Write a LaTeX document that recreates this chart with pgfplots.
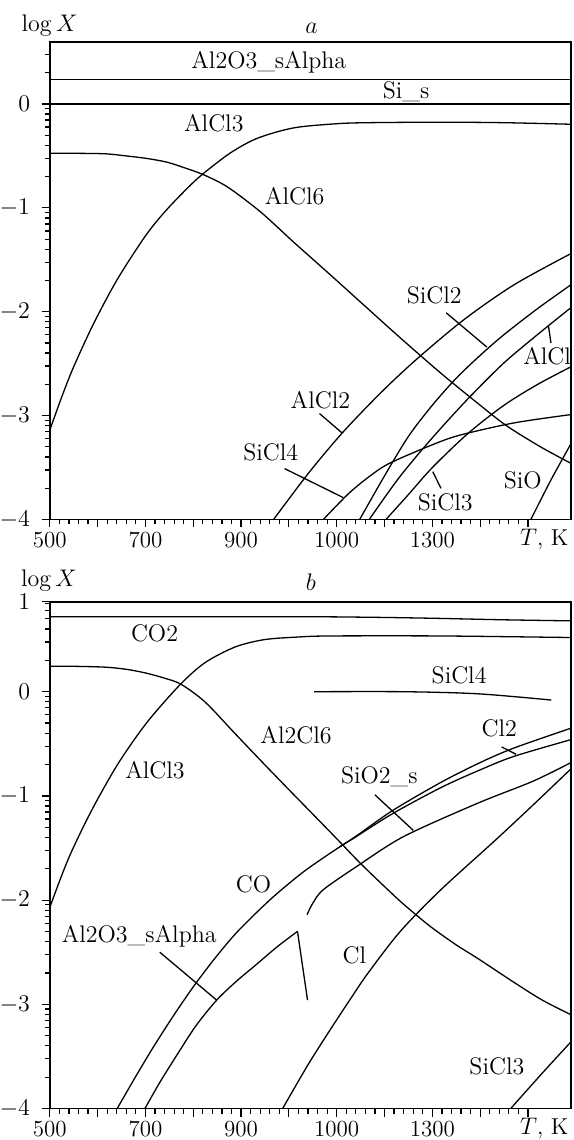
\documentclass[border=0pt]{standalone}
\usepackage{pgfplots}
\pgfplotsset{compat=1.18}
\tikzset{ptr/.style={line width=0.65pt, black}}
\newcommand{\TK}{$T$, K}
\begin{document}
\begin{tikzpicture}[font=\fontsize{12}{14}\selectfont]
\path[use as bounding box] (0,0) rectangle (286.5pt,570pt);
\pgfplotsset{
  panel/.style={
    scale only axis, width=260.6pt,
    xmin=500, xmax=1590,
    axis line style={line width=0.9pt},
    tick align=outside, xtick pos=bottom, ytick pos=left,
    xtick={500,600,...,1500},
    xticklabels={500,,700,,900,,1000,,1300,,},
    minor x tick num=4,
    major tick length=4pt, minor tick length=2.5pt,
    every tick/.style={line width=0.6pt, black},
    tick label style={font=\fontsize{11.5}{13}\selectfont},
    xticklabel style={anchor=base, inner sep=0pt, yshift=-10pt},
    yticklabel style={anchor=east, inner sep=0pt, xshift=-5.7pt},
    extra x ticks={1534},
    extra x tick labels={\TK},
    extra x tick style={major tick length=0pt, xticklabel style={yshift=-3pt}},
    every axis plot/.append style={line width=0.65pt, black, no marks, solid},
  },
}
% ---------------- panel a ----------------
\begin{axis}[panel, at={(24.9pt,310.25pt)}, anchor=south west, height=238.75pt,
  ymin=-4, ymax=0.597,
  ytick={-4,-3,-2,-1,0},
  minor ytick={-3.699,-3.523,-3.398,-3.301,-3.222,-3.155,-3.097,-3.046,
               -2.699,-2.523,-2.398,-2.301,-2.222,-2.155,-2.097,-2.046,
               -1.699,-1.523,-1.398,-1.301,-1.222,-1.155,-1.097,-1.046,
               -0.699,-0.523,-0.398,-0.301,-0.222,-0.155,-0.097,-0.046,
               0.301,0.477}]
% Al2O3_sAlpha
\addplot[sharp plot] coordinates {(500,0.235)(1590,0.235)};
% Si_s
\addplot[sharp plot] coordinates {(500,0)(1590,0)};
% AlCl3
\addplot[smooth] coordinates {(500,-3.14)(525,-2.82)(549,-2.54)(591,-2.12)(641,-1.69)(700,-1.27)(742,-1.03)(790,-0.80)(821,-0.67)(878,-0.47)(934,-0.33)(1010,-0.23)(1100,-0.19)(1165,-0.18)(1318,-0.175)(1450,-0.18)(1590,-0.195)};
% AlCl6
\addplot[smooth] coordinates {(500,-0.475)(560,-0.475)(618,-0.48)(660,-0.50)(704,-0.525)(745,-0.56)(779,-0.61)(821,-0.68)(872,-0.80)(941,-1.04)(1010,-1.33)(1088,-1.65)(1165,-1.97)(1240,-2.28)(1320,-2.60)(1400,-2.90)(1456,-3.10)(1526,-3.30)(1590,-3.46)};
% AlCl2
\addplot[smooth] coordinates {(968,-4.0)(1040,-3.56)(1111,-3.17)(1190,-2.79)(1264,-2.47)(1365,-2.08)(1471,-1.74)(1590,-1.44)};
% SiCl2
\addplot[smooth] coordinates {(1148,-4.0)(1200,-3.58)(1250,-3.20)(1300,-2.90)(1350,-2.64)(1400,-2.42)(1450,-2.22)(1520,-1.97)(1590,-1.74)};
% AlCl
\addplot[smooth] coordinates {(1168,-4.0)(1230,-3.60)(1295,-3.24)(1370,-2.86)(1448,-2.50)(1520,-2.22)(1590,-1.96)};
% SiCl3
\addplot[smooth] coordinates {(1203,-4.0)(1250,-3.76)(1300,-3.50)(1375,-3.17)(1450,-2.90)(1520,-2.70)(1590,-2.53)};
% SiCl4
\addplot[smooth] coordinates {(1072,-4.0)(1125,-3.75)(1170,-3.58)(1210,-3.46)(1295,-3.29)(1356,-3.19)(1471,-3.07)(1590,-2.99)};
% SiO
\addplot[smooth] coordinates {(1506,-4.0)(1548,-3.62)(1590,-3.27)};
% labels
\node[anchor=base] at (axis cs:958,0.344) {Al2O3\_sAlpha};
\node[anchor=base] at (axis cs:1245,0.055) {Si\_s};
\node[anchor=base] at (axis cs:843,-0.266) {AlCl3};
\node[anchor=base] at (axis cs:1012,-0.97) {AlCl6};
\node[anchor=base] at (axis cs:1304,-1.925) {SiCl2};
\node[anchor=base] at (axis cs:1540,-2.51) {AlCl};
\node[anchor=base] at (axis cs:1066,-2.93) {AlCl2};
\node[anchor=base] at (axis cs:962,-3.43) {SiCl4};
\node[anchor=base] at (axis cs:1327,-3.91) {SiCl3};
\node[anchor=base] at (axis cs:1489,-3.70) {SiO};
% pointers
\draw[ptr] (axis cs:1329,-2.01) -- (axis cs:1414,-2.34);
\draw[ptr] (axis cs:1548,-2.30) -- (axis cs:1543,-2.14);
\draw[ptr] (axis cs:1064,-2.98) -- (axis cs:1112,-3.17);
\draw[ptr] (axis cs:991,-3.51) -- (axis cs:1114,-3.79);
\draw[ptr] (axis cs:1318,-3.70) -- (axis cs:1301,-3.54);
\end{axis}
\node[anchor=base west] at (7.3pt,554.2pt) {$\log X$};
\node[anchor=base] at (155.8pt,553.3pt) {$a$};
% ---------------- panel b ----------------
\begin{axis}[panel, at={(24.9pt,15.75pt)}, anchor=south west, height=253.4pt,
  ymin=-4, ymax=0.864,
  ytick={-4,-3,-2,-1,0,0.864},
  yticklabels={$-4$,$-3$,$-2$,$-1$,$0$,$1$},
  minor ytick={-3.699,-3.523,-3.398,-3.301,-3.222,-3.155,-3.097,-3.046,
               -2.699,-2.523,-2.398,-2.301,-2.222,-2.155,-2.097,-2.046,
               -1.699,-1.523,-1.398,-1.301,-1.222,-1.155,-1.097,-1.046,
               -0.699,-0.523,-0.398,-0.301,-0.222,-0.155,-0.097,-0.046,
               0.301,0.477,0.602,0.699,0.778,0.845}]
% CO2
\addplot[smooth] coordinates {(500,0.72)(1000,0.72)(1160,0.715)(1300,0.705)(1450,0.69)(1590,0.68)};
% AlCl3
\addplot[smooth] coordinates {(500,-2.07)(521,-1.81)(542,-1.57)(574,-1.26)(605,-0.99)(647,-0.66)(704,-0.29)(773,0.07)(825,0.28)(888,0.43)(949,0.50)(1020,0.525)(1087,0.535)(1318,0.535)(1590,0.52)};
% Al2Cl6
\addplot[smooth] coordinates {(500,0.245)(560,0.243)(618,0.235)(660,0.215)(700,0.18)(740,0.13)(775,0.07)(825,-0.10)(887,-0.40)(941,-0.66)(1000,-0.94)(1049,-1.17)(1102,-1.42)(1148,-1.64)(1200,-1.87)(1240,-2.04)(1295,-2.25)(1350,-2.43)(1395,-2.56)(1471,-2.79)(1530,-2.96)(1590,-3.10)};
% CO
\addplot[smooth] coordinates {(641,-4.0)(680,-3.69)(718,-3.40)(760,-3.10)(802,-2.82)(845,-2.56)(887,-2.33)(930,-2.13)(972,-1.95)(1033,-1.72)(1106,-1.49)(1141,-1.39)(1217,-1.17)(1318,-0.92)(1400,-0.75)(1471,-0.62)(1590,-0.46)};
% Cl2
\addplot[smooth] coordinates {(1106,-1.49)(1141,-1.385)(1217,-1.14)(1318,-0.87)(1400,-0.68)(1471,-0.54)(1590,-0.35)};
% SiO2_s
\addplot[smooth] coordinates {(1038,-2.14)(1050,-2.03)(1072,-1.90)(1141,-1.68)(1240,-1.39)(1395,-1.07)(1510,-0.86)(1590,-0.68)};
% Cl
\addplot[smooth] coordinates {(987,-4.0)(1040,-3.58)(1087,-3.24)(1130,-2.94)(1164,-2.71)(1233,-2.30)(1318,-1.90)(1433,-1.42)(1510,-1.09)(1590,-0.74)};
% Al2O3_sAlpha
\addplot[smooth] coordinates {(699,-4.0)(730,-3.75)(764,-3.50)(805,-3.21)(849,-2.96)(890,-2.78)(934,-2.61)(975,-2.45)(1018,-2.30)};
\addplot[sharp plot] coordinates {(1018,-2.30)(1039,-2.96)};
% SiCl4
\addplot[smooth] coordinates {(1053,0.0)(1240,0.0)(1395,-0.02)(1549,-0.08)};
% SiCl3
\addplot[smooth] coordinates {(1464,-4.0)(1530,-3.66)(1590,-3.36)};
% labels
\node[anchor=base] at (axis cs:719,0.48) {CO2};
\node[anchor=base] at (axis cs:1356,0.08) {SiCl4};
\node[anchor=base] at (axis cs:1015,-0.495) {Al2Cl6};
\node[anchor=base] at (axis cs:1440,-0.43) {Cl2};
\node[anchor=base] at (axis cs:720,-0.83) {AlCl3};
\node[anchor=base] at (axis cs:1189,-0.88) {SiO2\_s};
\node[anchor=base] at (axis cs:926,-1.93) {CO};
\node[anchor=base] at (axis cs:687,-2.41) {Al2O3\_sAlpha};
\node[anchor=base] at (axis cs:1137,-2.61) {Cl};
\node[anchor=base] at (axis cs:1435,-3.67) {SiCl3};
% pointers
\draw[ptr] (axis cs:1180,-0.99) -- (axis cs:1260,-1.33);
\draw[ptr] (axis cs:730,-2.50) -- (axis cs:849,-2.96);
\draw[ptr] (axis cs:1445,-0.53) -- (axis cs:1475,-0.60);
\end{axis}
\node[anchor=base west] at (7pt,276.7pt) {$\log X$};
\node[anchor=base] at (155.4pt,274.5pt) {$b$};
\end{tikzpicture}
\end{document}
